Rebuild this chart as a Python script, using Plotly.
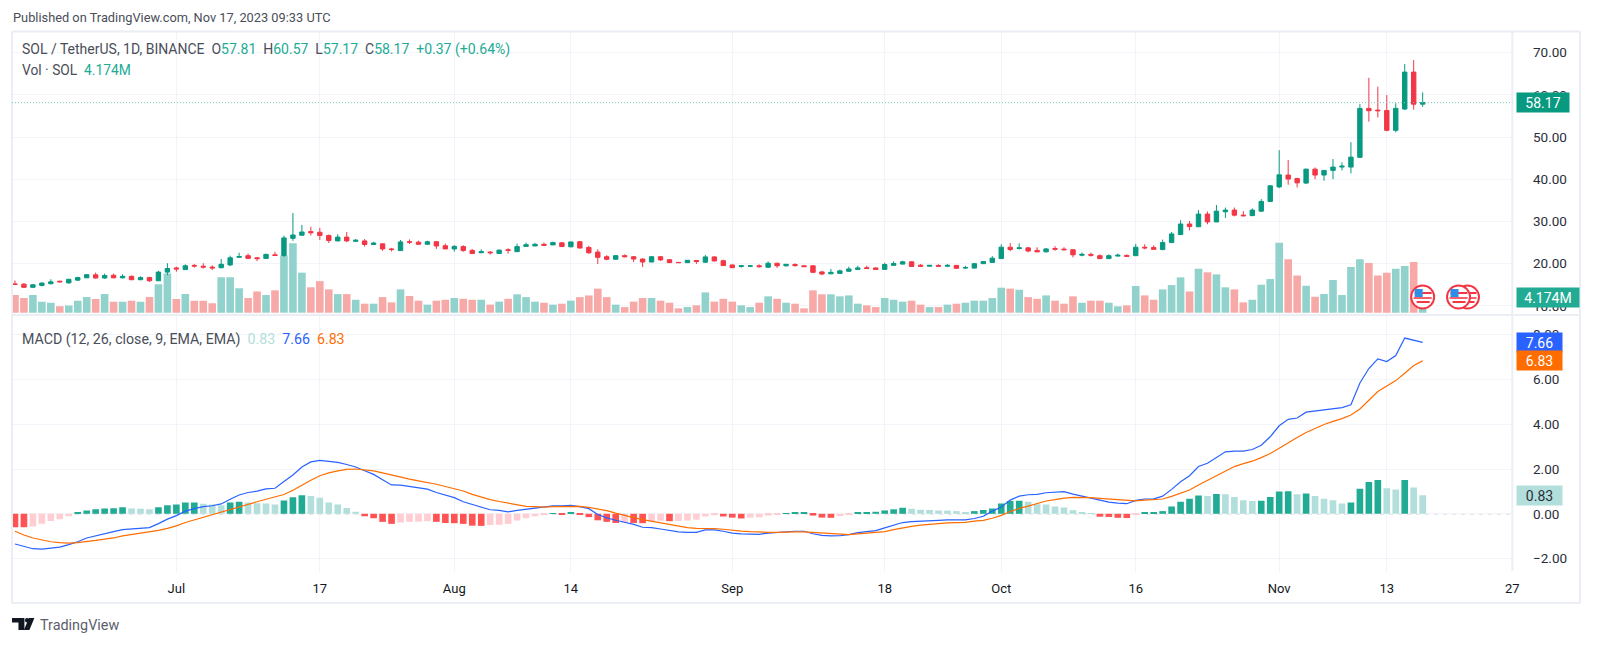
#!/usr/bin/env python3
"""SOL / TetherUS daily chart with volume and MACD panes."""

import pandas as pd
import plotly.graph_objects as go

# the page keeps its default 8px body margin, so the figure is that much smaller
PAGE_MARGIN = 8
W, H = 1600 - 2 * PAGE_MARGIN, 645 - 2 * PAGE_MARGIN

dates = pd.date_range("2023-06-13", "2023-11-17", freq="D")

opens = [
    15.2, 15.15, 14.4, 14.85, 15.25, 15.85, 15.45, 16.1, 16.65, 17.35,
    16.6, 17.25, 16.65, 17.0, 16.2, 16.7, 15.95, 18.0, 19.0, 18.6,
    19.6, 19.4, 19.2, 19.05, 19.7, 21.5, 21.9, 21.4, 21.25, 22.1,
    21.95, 26.0, 26.75, 27.6, 27.45, 26.7, 25.4, 26.3, 25.3, 25.4,
    24.55, 24.7, 23.5, 23.1, 25.2, 25.1, 24.6, 25.2, 24.25, 23.5,
    24.05, 23.15, 22.6, 22.75, 22.4, 23.3, 22.85, 24.1, 24.2, 24.6,
    24.45, 24.95, 24.0, 25.2, 23.85, 22.75, 21.65, 21.05, 21.9, 21.65,
    21.1, 20.4, 21.65, 20.95, 20.3, 20.25, 20.75, 20.35, 21.6, 20.7,
    19.7, 19.35, 19.4, 19.5, 19.15, 20.1, 19.5, 19.8, 19.5, 19.5,
    18.05, 17.6, 17.7, 18.2, 18.65, 19.05, 19.0, 18.65, 19.6, 19.9,
    20.45, 19.65, 19.4, 19.6, 19.4, 19.6, 18.95, 18.95, 20.0, 20.3,
    21.2, 23.9, 23.6, 23.75, 23.15, 22.8, 23.6, 23.45, 23.3, 22.0,
    22.2, 21.9, 21.2, 21.8, 21.95, 21.9, 23.9, 23.85, 23.35, 25.0,
    26.9, 29.4, 28.75, 31.75, 29.9, 32.3, 32.7, 31.5, 31.4, 32.45,
    34.75, 38.2, 41.0, 40.2, 39.1, 42.4, 41.0, 42.1, 42.9, 42.9,
    45.2, 56.8, 56.4, 56.3, 51.6, 56.65, 65.4, 57.81,
]
highs = [
    16.0, 15.4, 15.2, 15.6, 16.3, 15.95, 16.4, 16.9, 17.5, 17.9,
    17.65, 17.65, 17.5, 17.2, 17.0, 16.9, 18.3, 20.1, 19.3, 19.85,
    19.9, 20.1, 19.6, 21.1, 21.9, 22.6, 22.4, 21.6, 22.4, 22.8,
    26.65, 32.0, 29.2, 28.75, 28.5, 26.9, 27.0, 27.5, 25.85, 25.85,
    25.2, 24.75, 23.75, 25.6, 25.75, 25.45, 25.45, 25.3, 24.75, 24.4,
    24.35, 23.5, 23.4, 23.0, 23.4, 23.65, 24.75, 25.0, 24.9, 25.0,
    25.2, 25.0, 25.2, 25.4, 24.2, 23.4, 22.0, 22.05, 22.2, 21.8,
    21.25, 21.8, 21.8, 21.05, 20.35, 20.85, 20.8, 22.05, 21.8, 20.95,
    19.75, 19.6, 19.6, 19.85, 20.55, 20.25, 19.9, 20.1, 19.55, 19.55,
    18.3, 18.75, 18.6, 19.3, 19.5, 19.5, 19.05, 20.2, 20.55, 20.7,
    20.5, 19.9, 19.65, 19.85, 19.9, 19.65, 19.5, 20.1, 20.55, 21.8,
    24.6, 24.9, 24.8, 23.9, 23.9, 23.7, 24.15, 23.9, 23.45, 22.65,
    22.6, 22.2, 22.2, 22.4, 22.2, 24.7, 24.6, 24.35, 25.7, 27.5,
    30.3, 30.1, 32.7, 32.35, 33.9, 33.3, 33.3, 32.45, 33.1, 35.3,
    38.6, 46.9, 44.55, 40.35, 42.5, 42.8, 42.15, 44.8, 44.0, 48.8,
    57.8, 64.05, 61.95, 59.95, 58.0, 67.3, 68.25, 60.57,
]
lows = [
    15.0, 14.25, 14.3, 14.6, 15.1, 15.6, 15.3, 15.9, 16.6, 16.5,
    16.4, 16.55, 16.5, 16.1, 16.1, 15.7, 15.9, 17.3, 18.1, 18.55,
    19.05, 18.85, 18.5, 18.9, 19.45, 21.4, 21.1, 20.6, 21.2, 21.8,
    21.6, 25.4, 26.65, 26.7, 25.6, 24.9, 25.3, 25.1, 25.2, 24.05,
    24.4, 23.05, 22.9, 23.0, 24.65, 24.55, 24.5, 23.5, 23.45, 22.85,
    22.85, 22.3, 22.5, 22.15, 22.35, 22.4, 22.75, 24.05, 24.15, 24.3,
    24.4, 24.0, 23.9, 23.65, 22.3, 19.9, 20.8, 20.95, 21.5, 20.4,
    19.2, 20.35, 20.65, 20.2, 20.2, 20.2, 19.95, 20.2, 20.55, 19.5,
    19.0, 19.05, 19.15, 19.05, 19.0, 19.0, 19.3, 19.3, 19.2, 17.75,
    17.3, 17.5, 17.6, 18.1, 18.6, 18.75, 18.6, 18.6, 19.5, 19.85,
    19.3, 19.2, 19.35, 19.2, 19.2, 18.8, 18.8, 18.9, 19.95, 20.25,
    21.1, 22.95, 23.35, 22.7, 22.75, 22.7, 23.1, 23.25, 21.5, 21.75,
    21.65, 21.1, 21.1, 21.75, 21.7, 21.85, 23.4, 23.35, 23.2, 25.0,
    26.85, 27.9, 28.7, 29.35, 29.85, 30.85, 31.2, 31.3, 31.25, 32.3,
    34.7, 37.9, 38.7, 38.05, 38.95, 40.0, 39.65, 40.05, 42.1, 41.4,
    45.1, 53.65, 54.65, 51.4, 51.1, 56.4, 56.5, 57.17,
]
closes = [
    15.1, 14.4, 15.0, 15.4, 15.7, 15.7, 16.3, 16.7, 17.4, 16.6,
    17.2, 16.65, 17.0, 16.2, 16.7, 15.95, 18.0, 18.85, 18.75, 19.5,
    19.45, 19.2, 19.0, 19.85, 21.4, 21.7, 21.25, 21.2, 22.2, 21.95,
    26.1, 26.8, 27.5, 27.35, 26.7, 25.5, 26.3, 25.4, 25.55, 24.55,
    24.9, 23.5, 23.35, 25.15, 25.1, 24.6, 25.2, 24.2, 23.5, 24.1,
    23.1, 22.4, 22.85, 22.6, 23.2, 23.15, 24.05, 24.5, 24.6, 24.35,
    25.0, 24.05, 25.15, 23.7, 22.6, 21.5, 21.05, 21.9, 21.65, 21.1,
    20.4, 21.65, 20.9, 20.25, 20.25, 20.8, 20.5, 21.6, 20.65, 19.55,
    19.05, 19.5, 19.5, 19.3, 20.1, 19.5, 19.85, 19.55, 19.3, 17.95,
    17.55, 17.95, 18.3, 18.75, 19.0, 18.85, 18.65, 19.8, 20.05, 20.45,
    19.35, 19.4, 19.6, 19.4, 19.6, 18.9, 19.1, 20.0, 20.5, 21.3,
    23.9, 23.35, 23.75, 23.0, 22.8, 23.5, 23.45, 23.3, 22.1, 22.2,
    22.0, 21.2, 21.9, 22.0, 21.75, 23.9, 23.75, 23.4, 25.0, 27.05,
    29.4, 28.8, 31.75, 29.9, 32.45, 32.7, 31.5, 31.35, 32.7, 34.75,
    38.45, 41.05, 40.05, 39.15, 42.4, 41.0, 42.1, 42.9, 43.1, 45.25,
    56.8, 56.25, 56.25, 51.6, 56.8, 65.4, 57.8, 58.17,
]
volumes = [
    4.7, 3.9, 4.7, 2.9, 2.65, 1.75, 1.95, 3.2, 4.15, 3.65,
    4.95, 2.9, 2.9, 3.2, 2.9, 4.15, 7.6, 10.45, 3.65, 4.95,
    3.2, 3.2, 2.5, 9.4, 9.4, 6.5, 3.9, 5.65, 4.7, 5.95,
    15.25, 18.5, 10.65, 6.75, 8.4, 6.2, 4.95, 4.95, 3.45, 2.4,
    2.4, 4.15, 2.75, 6.2, 4.45, 3.2, 2.15, 3.2, 3.45, 3.9,
    3.7, 3.45, 3.45, 2.15, 2.95, 3.7, 4.9, 4.15, 2.95, 2.65,
    2.15, 2.4, 3.2, 4.15, 4.6, 6.4, 4.15, 2.15, 1.5, 2.95,
    3.9, 3.9, 3.2, 2.65, 1.15, 1.5, 1.95, 5.4, 2.95, 3.7,
    2.95, 1.95, 1.5, 2.65, 4.35, 3.7, 2.65, 2.4, 1.15, 5.95,
    4.9, 4.9, 4.35, 4.6, 2.4, 1.95, 1.5, 3.9, 3.45, 2.95,
    3.2, 2.15, 1.5, 1.5, 2.15, 2.4, 2.65, 3.2, 3.2, 3.9,
    6.65, 6.4, 6.1, 4.15, 3.7, 4.6, 3.2, 2.4, 4.35, 2.65,
    3.2, 3.2, 2.65, 1.7, 1.95, 7.1, 4.6, 3.45, 6.2, 7.35,
    9.4, 5.65, 11.7, 10.75, 10.2, 6.75, 6.2, 2.75, 3.45, 7.45,
    8.95, 18.6, 14.2, 9.9, 7.2, 4.25, 4.95, 8.7, 4.7, 12.15,
    14.2, 13.2, 9.9, 10.65, 11.7, 12.4, 13.5, 4.174,
]
macd = [
    -1.35, -1.47, -1.56, -1.58, -1.53, -1.49, -1.38, -1.25, -1.08, -0.98,
    -0.87, -0.80, -0.71, -0.68, -0.62, -0.62, -0.44, -0.24, -0.08, 0.12,
    0.23, 0.32, 0.36, 0.44, 0.65, 0.84, 0.95, 1.01, 1.11, 1.14,
    1.44, 1.73, 2.09, 2.32, 2.39, 2.35, 2.30, 2.20, 2.09, 1.92,
    1.76, 1.52, 1.29, 1.28, 1.22, 1.16, 1.10, 0.95, 0.83, 0.72,
    0.54, 0.41, 0.29, 0.18, 0.15, 0.09, 0.15, 0.20, 0.24, 0.30,
    0.35, 0.35, 0.38, 0.32, 0.23, -0.03, -0.18, -0.29, -0.38, -0.47,
    -0.60, -0.62, -0.68, -0.75, -0.81, -0.83, -0.83, -0.72, -0.72, -0.78,
    -0.86, -0.90, -0.92, -0.92, -0.86, -0.83, -0.80, -0.78, -0.78, -0.89,
    -0.96, -0.99, -0.98, -0.93, -0.84, -0.78, -0.75, -0.63, -0.50, -0.39,
    -0.35, -0.32, -0.30, -0.29, -0.27, -0.27, -0.27, -0.21, -0.11, 0.12,
    0.30, 0.61, 0.79, 0.85, 0.87, 0.94, 0.97, 0.99, 0.88, 0.79,
    0.70, 0.58, 0.52, 0.48, 0.45, 0.60, 0.66, 0.67, 0.79, 1.09,
    1.43, 1.70, 2.11, 2.26, 2.51, 2.77, 2.80, 2.80, 2.87, 3.06,
    3.44, 3.93, 4.22, 4.28, 4.54, 4.59, 4.66, 4.72, 4.74, 4.87,
    5.84, 6.49, 6.92, 6.80, 7.07, 7.85, 7.77, 7.66,
]
signal = [
    -0.78, -0.95, -1.08, -1.17, -1.25, -1.29, -1.31, -1.29, -1.25, -1.19,
    -1.13, -1.08, -0.99, -0.93, -0.86, -0.81, -0.74, -0.65, -0.54, -0.39,
    -0.27, -0.17, -0.05, 0.06, 0.18, 0.32, 0.44, 0.54, 0.65, 0.74,
    0.86, 1.05, 1.28, 1.50, 1.70, 1.83, 1.92, 1.98, 2.0, 1.97,
    1.92, 1.83, 1.73, 1.64, 1.55, 1.47, 1.40, 1.32, 1.22, 1.13,
    1.02, 0.87, 0.74, 0.63, 0.55, 0.47, 0.39, 0.33, 0.32, 0.30,
    0.32, 0.32, 0.33, 0.33, 0.29, 0.23, 0.14, 0.03, -0.08, -0.17,
    -0.26, -0.33, -0.42, -0.50, -0.56, -0.62, -0.65, -0.65, -0.66, -0.69,
    -0.74, -0.77, -0.80, -0.83, -0.83, -0.83, -0.81, -0.81, -0.81, -0.83,
    -0.86, -0.90, -0.92, -0.93, -0.90, -0.87, -0.86, -0.80, -0.71, -0.62,
    -0.56, -0.51, -0.47, -0.44, -0.41, -0.39, -0.38, -0.33, -0.29, -0.20,
    -0.07, 0.10, 0.24, 0.34, 0.46, 0.57, 0.63, 0.70, 0.73, 0.73,
    0.72, 0.69, 0.66, 0.61, 0.58, 0.58, 0.61, 0.64, 0.66, 0.78,
    0.91, 1.06, 1.29, 1.49, 1.69, 1.91, 2.11, 2.24, 2.35, 2.51,
    2.69, 2.93, 3.18, 3.41, 3.63, 3.81, 3.99, 4.13, 4.25, 4.41,
    4.68, 5.07, 5.46, 5.71, 5.95, 6.28, 6.62, 6.83,
]
hist = [
    -0.60, -0.60, -0.57, -0.44, -0.32, -0.24, -0.11, 0.05, 0.15, 0.20,
    0.24, 0.25, 0.29, 0.24, 0.23, 0.20, 0.29, 0.38, 0.42, 0.50,
    0.51, 0.45, 0.42, 0.38, 0.50, 0.54, 0.50, 0.47, 0.46, 0.42,
    0.59, 0.74, 0.83, 0.80, 0.72, 0.51, 0.42, 0.26, 0.09, -0.11,
    -0.20, -0.36, -0.45, -0.39, -0.36, -0.35, -0.33, -0.36, -0.41, -0.42,
    -0.45, -0.53, -0.54, -0.50, -0.49, -0.45, -0.30, -0.20, -0.11, -0.06,
    0.03, -0.03, 0.06, -0.03, -0.15, -0.29, -0.36, -0.41, -0.38, -0.41,
    -0.42, -0.34, -0.31, -0.33, -0.32, -0.30, -0.26, -0.12, -0.06, -0.12,
    -0.17, -0.21, -0.17, -0.16, -0.08, -0.03, 0.02, 0.05, 0.06, -0.08,
    -0.17, -0.18, -0.10, -0.06, 0.05, 0.08, 0.09, 0.15, 0.20, 0.27,
    0.23, 0.18, 0.17, 0.15, 0.14, 0.12, 0.08, 0.12, 0.17, 0.24,
    0.46, 0.57, 0.58, 0.54, 0.43, 0.42, 0.33, 0.28, 0.16, 0.06,
    0.01, -0.13, -0.14, -0.18, -0.19, -0.04, 0.05, 0.06, 0.12, 0.33,
    0.54, 0.67, 0.82, 0.79, 0.88, 0.87, 0.75, 0.60, 0.57, 0.58,
    0.75, 1.00, 1.01, 0.87, 0.91, 0.79, 0.67, 0.60, 0.46, 0.51,
    1.12, 1.42, 1.51, 1.14, 1.09, 1.51, 1.18, 0.83,
]

price_ticks = [10, 20, 30, 40, 50, 60, 70]
price_tick_labels = ["10.00", "20.00", "30.00", "40.00", "50.00", "60.00", "70.00"]
macd_ticks = [-2, 0, 2, 4, 6, 8]
macd_tick_labels = ["\u22122.00", "0.00", "2.00", "4.00", "6.00", "8.00"]
date_ticks = ["2023-07-01", "2023-07-17", "2023-08-01", "2023-08-14", "2023-09-01", "2023-09-18",
              "2023-10-01", "2023-10-16", "2023-11-01", "2023-11-13", "2023-11-27"]
date_tick_labels = ["Jul", "17", "Aug", "14", "Sep", "18", "Oct", "16", "Nov", "13", "27"]
event_dates = ["2023-11-17", "2023-11-22", "2023-11-21"]  # drawn back to front

UP, DOWN = "#089981", "#f23645"
GRID = "#f2f4f9"
BORDER = "#eceef5"
TEXT = "#2a2e39"
FONT = "Roboto"

# pane edges in page pixels
LEFT, AXIS, RIGHT = 12, 1519, 1587
TOP, SPLIT, PANE_END, BOTTOM = 31.5, 315, 572, 603


def px(x):
    return (x - PAGE_MARGIN) / W


def py(y):
    return 1 - (y - PAGE_MARGIN) / H


def vol_color(o, c):
    return "#92d2cc" if c >= o else "#f7a9a7"


def hist_colors(values):
    out = []
    for i, v in enumerate(values):
        prev = values[i - 1] if i else v
        if v >= 0:
            out.append("#22ab94" if v > prev else "#b2dfdb")
        else:
            out.append("#ff5252" if v <= prev else "#ffcdd2")
    return out


def flag_shapes(day):
    """One calendar-event badge, sized in pixels and anchored on the date axis."""
    def piece(kind, x0, y0, x1, y1, fill, line=None, width=0):
        return dict(type=kind, xref="x", yref="y3", xsizemode="pixel", ysizemode="pixel",
                    xanchor=day, yanchor=volumes[-1], x0=x0, x1=x1, y0=y0, y1=y1,
                    fillcolor=fill, line=dict(color=line or fill, width=width))
    return [
        piece("circle", -11.5, -11.5, 11.5, 11.5, "white", "#f23645", 2),
        piece("rect", -8, 3, 9, 5, "#f23645"),
        piece("rect", -9, -2, 9, 0, "#f4606c"),
        piece("rect", -6, -6, 7, -4, "#f23645"),
        piece("rect", -8, 0, 0, 8, "#2f8fe8"),
    ]


def pane_line(x0, y0, x1, y1, width=2):
    return dict(type="line", xref="paper", yref="paper", x0=px(x0), x1=px(x1), y0=py(y0), y1=py(y1),
                line=dict(color=BORDER, width=width))


def value_label(text, yref, y, width, bg, color="white"):
    return dict(text=text, xref="paper", yref=yref, x=px(AXIS + 4), y=y, xanchor="left", yanchor="middle",
                showarrow=False, width=width, height=17, align="center", bgcolor=bg, borderpad=1,
                font=dict(family=FONT, size=14, color=color))


def text_line(text, x, y, size=13, color=TEXT):
    return dict(text=text, xref="paper", yref="paper", x=px(x), y=py(y), xanchor="left", yanchor="middle",
                showarrow=False, align="left", font=dict(family=FONT, size=size, color=color))


def colored(text, color):
    return f'<span style="color:{color}">{text}</span>'


teal = "#22ab94"
nb = "&nbsp;"
header = ("SOL / TetherUS, 1D, BINANCE" + nb * 2
          + "O" + colored("57.81", teal) + nb * 2
          + "H" + colored("60.57", teal) + nb * 2
          + "L" + colored("57.17", teal) + nb * 2
          + "C" + colored("58.17", teal) + nb * 2
          + colored("+0.37 (+0.64%)", teal))
vol_header = "Vol · SOL" + nb * 2 + colored("4.174M", teal)
macd_header = ("MACD (12, 26, close, 9, EMA, EMA)" + nb * 2
               + colored("0.83", "#b2dfdb") + nb * 2
               + colored("7.66", "#2962ff") + nb * 2
               + colored("6.83", "#ff6d00"))

fig = go.Figure()

fig.add_trace(go.Bar(
    x=dates, y=volumes, yaxis="y3", width=0.85 * 86400000,
    marker=dict(color=[vol_color(o, c) for o, c in zip(opens, closes)], line_width=0),
))
fig.add_trace(go.Candlestick(
    x=dates, open=opens, high=highs, low=lows, close=closes,
    increasing=dict(line=dict(color=UP, width=1), fillcolor=UP),
    decreasing=dict(line=dict(color=DOWN, width=1), fillcolor=DOWN),
    whiskerwidth=0,
))
fig.add_trace(go.Bar(
    x=dates, y=hist, yaxis="y2", width=0.74 * 86400000,
    marker=dict(color=hist_colors(hist), line_width=0),
))
fig.add_trace(go.Scatter(x=dates, y=macd, yaxis="y2", mode="lines", line=dict(color="#2962ff", width=1.2)))
fig.add_trace(go.Scatter(x=dates, y=signal, yaxis="y2", mode="lines", line=dict(color="#ff6d00", width=1.2)))

shapes = [
    pane_line(LEFT, TOP, RIGHT, TOP),
    pane_line(LEFT, BOTTOM, RIGHT, BOTTOM),
    pane_line(LEFT, TOP, LEFT, BOTTOM),
    pane_line(RIGHT, TOP, RIGHT, BOTTOM),
    pane_line(AXIS, TOP, AXIS, BOTTOM - 32),
    pane_line(LEFT, SPLIT, RIGHT, SPLIT),
    dict(type="line", xref="paper", yref="y", x0=px(LEFT), x1=px(AXIS), y0=closes[-1], y1=closes[-1],
         line=dict(color="#7cc5b8", width=1, dash="1px,2px")),
    dict(type="line", xref="paper", yref="y2", x0=px(LEFT), x1=px(AXIS), y0=0, y1=0, layer="below",
         line=dict(color="#a9abb3", width=1, dash="4px,5px")),
    # TradingView logo
    dict(type="path", xref="paper", yref="paper", fillcolor="#131722", line_width=0,
         path=" ".join([f"{c} {px(x)} {py(y)}" for c, x, y in [
             ("M", 12, 618), ("L", 24.5, 618), ("L", 24.5, 630), ("L", 18.5, 630),
             ("L", 18.5, 622.5), ("L", 12, 622.5)]]) + " Z"),
    dict(type="circle", xref="paper", yref="paper", fillcolor="#131722", line_width=0,
         x0=px(25), x1=px(29.4), y0=py(622.4), y1=py(618)),
    dict(type="path", xref="paper", yref="paper", fillcolor="#131722", line_width=0,
         path=" ".join([f"{c} {px(x)} {py(y)}" for c, x, y in [
             ("M", 29, 618), ("L", 34.5, 618), ("L", 29.5, 630), ("L", 24, 630)]]) + " Z"),
]
for day in event_dates:
    shapes += flag_shapes(day)

annotations = [
    text_line("Published on TradingView.com, Nov 17, 2023 09:33 UTC", 11, 17.5, 12.8, "#4a4e59"),
    text_line(header, 20, 49.5, 14, "#4a4e59"),
    text_line(vol_header, 20, 69.5, 13.8, "#4a4e59"),
    text_line(macd_header, 20, 339.5, 14.2, "#4a4e59"),
    text_line("TradingView", 38, 625, 14.4, "#5d606b"),
    value_label("58.17", "y", closes[-1], 50, UP),
    value_label("4.174M", "y3", volumes[-1], 60, "#22ab94"),
    value_label("7.66", "y2", macd[-1], 43, "#2962ff"),
    value_label("6.83", "y2", signal[-1], 43, "#ff6d00"),
    value_label("0.83", "y2", hist[-1], 43, "#b2dfdb", TEXT),
]

axis_font = dict(family=FONT, size=13.5, color=TEXT)
# invisible outside ticks push the right-hand labels away from the axis
spacer_ticks = dict(ticks="outside", ticklen=17, tickwidth=1, tickcolor="rgba(0,0,0,0)")

fig.update_layout(
    width=W, height=H,
    margin=dict(l=0, r=0, t=0, b=0),
    paper_bgcolor="white", plot_bgcolor="white",
    showlegend=False, barmode="overlay",
    font=dict(family=FONT, color=TEXT),
    shapes=shapes, annotations=annotations,
    xaxis=dict(
        type="date", domain=[px(LEFT), px(AXIS)], anchor="y2",
        range=[pd.Timestamp("2023-06-13") - pd.Timedelta(hours=8), "2023-11-27"],
        tickmode="array", tickvals=date_ticks, ticktext=date_tick_labels,
        showgrid=True, gridcolor=GRID, gridwidth=1, zeroline=False, showline=False,
        ticks="", tickfont=dict(family=FONT, size=13, color="#131722"), ticklabelstandoff=7,
        rangeslider=dict(visible=False),
    ),
    yaxis=dict(
        domain=[py(SPLIT), py(TOP)], anchor="x", side="right", overlaying="y3",
        range=[7.84, 75.02], tickmode="array", tickvals=price_ticks, ticktext=price_tick_labels,
        showgrid=True, gridcolor=GRID, zeroline=False, showline=False,
        tickfont=axis_font, **spacer_ticks,
    ),
    yaxis3=dict(
        domain=[py(SPLIT), py(TOP)], anchor="x",
        range=[-0.61, 74.8], showgrid=False, zeroline=False, showline=False,
        showticklabels=False, ticks="",
    ),
    yaxis2=dict(
        domain=[py(PANE_END), py(SPLIT)], anchor="x", side="right",
        range=[-2.6, 8.88], tickmode="array", tickvals=macd_ticks, ticktext=macd_tick_labels,
        showgrid=True, gridcolor=GRID, zeroline=False, showline=False,
        tickfont=axis_font, **spacer_ticks,
    ),
)

fig.write_html("out.html")
